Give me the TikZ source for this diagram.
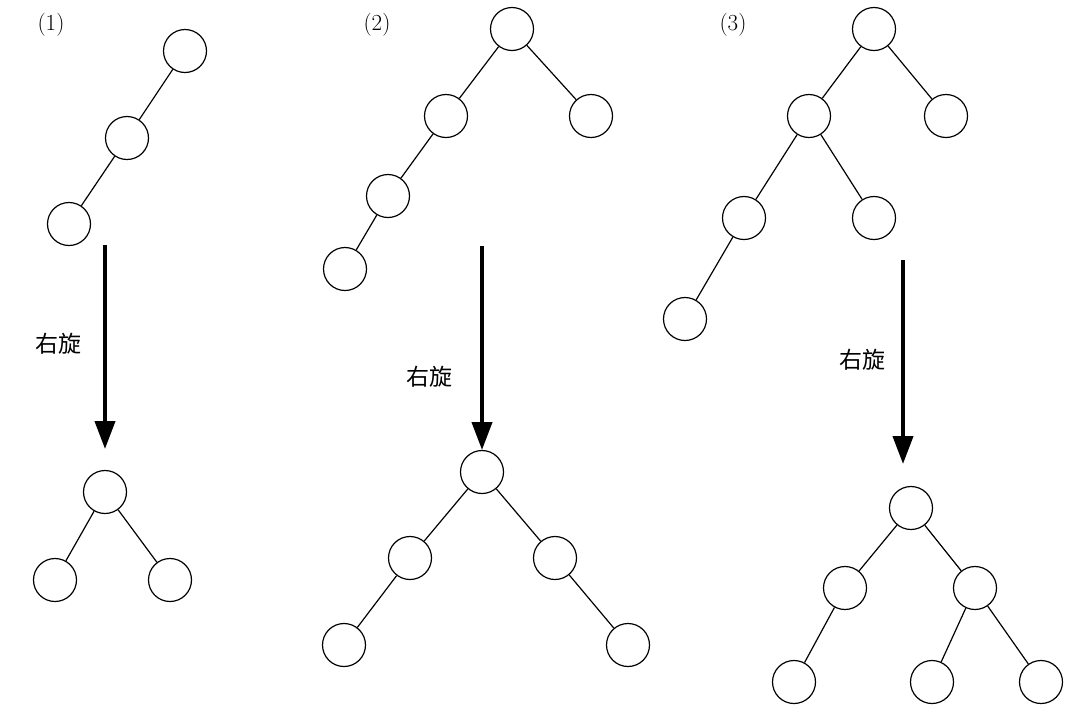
\documentclass[tikz,border=0pt]{standalone}
\usepackage{fontspec}
\newfontfamily\cjk{Noto Sans CJK SC}
\usetikzlibrary{arrows.meta}

\begin{document}
\begin{tikzpicture}[
    x=1pt, y=-1pt,
    nd/.style={draw, circle, minimum size=43pt, inner sep=0pt, line width=1.2pt},
    link/.style={line width=1.2pt},
    rotarrow/.style={-{Triangle[length=28pt, width=20pt]}, line width=4pt},
    tag/.style={font=\fontsize{23}{26}\selectfont},
    lbl/.style={font=\cjk\fontsize{23}{26}\selectfont},
]
\useasboundingbox (0,0) rectangle (1074,724);

% ── Case (1): before ─────────────────────────────────────────────────────
\node[tag] (t1) at (51,25) {(1)};
\node[nd] (a1) at (185,51) {};
\node[nd] (a2) at (127,138) {};
\node[nd] (a3) at (69,224) {};
\foreach \u/\v in {a1/a2, a2/a3} { \draw[link] (\u) -- (\v); }

% ── Case (1): rotation ───────────────────────────────────────────────────
\coordinate (r1s) at (105,245);
\coordinate (r1e) at (105,449);
\draw[rotarrow] (r1s) -- (r1e);
\node[lbl] (l1) at (58,344) {右旋};

% ── Case (1): after ──────────────────────────────────────────────────────
\node[nd] (b1) at (105,492) {};
\node[nd] (b2) at (55,580) {};
\node[nd] (b3) at (170,580) {};
\foreach \u/\v in {b1/b2, b1/b3} { \draw[link] (\u) -- (\v); }

% ── Case (2): before ─────────────────────────────────────────────────────
\node[tag] (t2) at (377,25) {(2)};
\node[nd] (c1) at (512,29) {};
\node[nd] (c2) at (446,116) {};
\node[nd] (c3) at (591,116) {};
\node[nd] (c4) at (388,196) {};
\node[nd] (c5) at (345,269) {};
\foreach \u/\v in {c1/c2, c1/c3, c2/c4, c4/c5} { \draw[link] (\u) -- (\v); }

% ── Case (2): rotation ───────────────────────────────────────────────────
\coordinate (r2s) at (482,246);
\coordinate (r2e) at (482,450);
\draw[rotarrow] (r2s) -- (r2e);
\node[lbl] (l2) at (429,377) {右旋};

% ── Case (2): after ──────────────────────────────────────────────────────
\node[nd] (d1) at (482,472) {};
\node[nd] (d2) at (410,558) {};
\node[nd] (d3) at (555,558) {};
\node[nd] (d4) at (344,645) {};
\node[nd] (d5) at (628,645) {};
\foreach \u/\v in {d1/d2, d1/d3, d2/d4, d3/d5} { \draw[link] (\u) -- (\v); }

% ── Case (3): before ─────────────────────────────────────────────────────
\node[tag] (t3) at (733,25) {(3)};
\node[nd] (e1) at (874,29) {};
\node[nd] (e2) at (809,116) {};
\node[nd] (e3) at (946,116) {};
\node[nd] (e4) at (744,218) {};
\node[nd] (e5) at (874,218) {};
\node[nd] (e6) at (685,319) {};
\foreach \u/\v in {e1/e2, e1/e3, e2/e4, e2/e5, e4/e6} { \draw[link] (\u) -- (\v); }

% ── Case (3): rotation ───────────────────────────────────────────────────
\coordinate (r3s) at (903,260);
\coordinate (r3e) at (903,464);
\draw[rotarrow] (r3s) -- (r3e);
\node[lbl] (l3) at (862,360) {右旋};

% ── Case (3): after ──────────────────────────────────────────────────────
\node[nd] (f1) at (911,508) {};
\node[nd] (f2) at (845,588) {};
\node[nd] (f3) at (975,588) {};
\node[nd] (f4) at (794,682) {};
\node[nd] (f5) at (932,682) {};
\node[nd] (f6) at (1041,682) {};
\foreach \u/\v in {f1/f2, f1/f3, f2/f4, f3/f5, f3/f6} { \draw[link] (\u) -- (\v); }

\end{tikzpicture}
\end{document}
